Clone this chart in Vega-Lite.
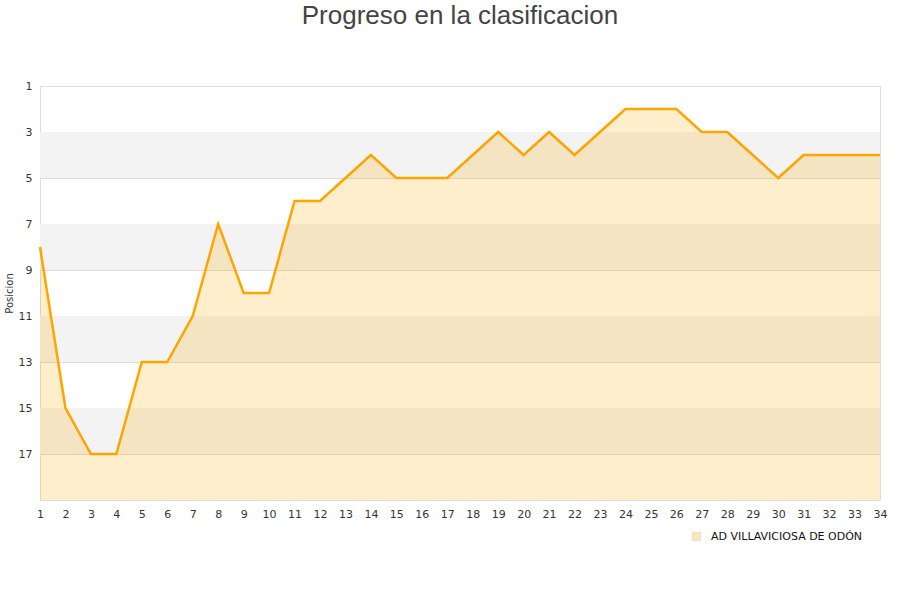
{
  "$schema": "https://vega.github.io/schema/vega-lite/v6.json",
  "width": 840,
  "height": 414,
  "autosize": {"type": "none"},
  "padding": {"left": 40, "top": 86, "right": 20, "bottom": 100},
  "title": {
    "text": "Progreso en la clasificacion",
    "fontSize": 26,
    "fontWeight": "normal",
    "color": "#444444",
    "font": "Liberation Sans",
    "anchor": "middle",
    "offset": 51
  },
  "datasets": {
    "bands": [
      {"desde": 3, "hasta": 5},
      {"desde": 7, "hasta": 9},
      {"desde": 11, "hasta": 13},
      {"desde": 15, "hasta": 17}
    ],
    "posiciones": [
      {"jornada": 1, "posicion": 8, "equipo": "AD VILLAVICIOSA DE ODÓN"},
      {"jornada": 2, "posicion": 15, "equipo": "AD VILLAVICIOSA DE ODÓN"},
      {"jornada": 3, "posicion": 17, "equipo": "AD VILLAVICIOSA DE ODÓN"},
      {"jornada": 4, "posicion": 17, "equipo": "AD VILLAVICIOSA DE ODÓN"},
      {"jornada": 5, "posicion": 13, "equipo": "AD VILLAVICIOSA DE ODÓN"},
      {"jornada": 6, "posicion": 13, "equipo": "AD VILLAVICIOSA DE ODÓN"},
      {"jornada": 7, "posicion": 11, "equipo": "AD VILLAVICIOSA DE ODÓN"},
      {"jornada": 8, "posicion": 7, "equipo": "AD VILLAVICIOSA DE ODÓN"},
      {"jornada": 9, "posicion": 10, "equipo": "AD VILLAVICIOSA DE ODÓN"},
      {"jornada": 10, "posicion": 10, "equipo": "AD VILLAVICIOSA DE ODÓN"},
      {"jornada": 11, "posicion": 6, "equipo": "AD VILLAVICIOSA DE ODÓN"},
      {"jornada": 12, "posicion": 6, "equipo": "AD VILLAVICIOSA DE ODÓN"},
      {"jornada": 13, "posicion": 5, "equipo": "AD VILLAVICIOSA DE ODÓN"},
      {"jornada": 14, "posicion": 4, "equipo": "AD VILLAVICIOSA DE ODÓN"},
      {"jornada": 15, "posicion": 5, "equipo": "AD VILLAVICIOSA DE ODÓN"},
      {"jornada": 16, "posicion": 5, "equipo": "AD VILLAVICIOSA DE ODÓN"},
      {"jornada": 17, "posicion": 5, "equipo": "AD VILLAVICIOSA DE ODÓN"},
      {"jornada": 18, "posicion": 4, "equipo": "AD VILLAVICIOSA DE ODÓN"},
      {"jornada": 19, "posicion": 3, "equipo": "AD VILLAVICIOSA DE ODÓN"},
      {"jornada": 20, "posicion": 4, "equipo": "AD VILLAVICIOSA DE ODÓN"},
      {"jornada": 21, "posicion": 3, "equipo": "AD VILLAVICIOSA DE ODÓN"},
      {"jornada": 22, "posicion": 4, "equipo": "AD VILLAVICIOSA DE ODÓN"},
      {"jornada": 23, "posicion": 3, "equipo": "AD VILLAVICIOSA DE ODÓN"},
      {"jornada": 24, "posicion": 2, "equipo": "AD VILLAVICIOSA DE ODÓN"},
      {"jornada": 25, "posicion": 2, "equipo": "AD VILLAVICIOSA DE ODÓN"},
      {"jornada": 26, "posicion": 2, "equipo": "AD VILLAVICIOSA DE ODÓN"},
      {"jornada": 27, "posicion": 3, "equipo": "AD VILLAVICIOSA DE ODÓN"},
      {"jornada": 28, "posicion": 3, "equipo": "AD VILLAVICIOSA DE ODÓN"},
      {"jornada": 29, "posicion": 4, "equipo": "AD VILLAVICIOSA DE ODÓN"},
      {"jornada": 30, "posicion": 5, "equipo": "AD VILLAVICIOSA DE ODÓN"},
      {"jornada": 31, "posicion": 4, "equipo": "AD VILLAVICIOSA DE ODÓN"},
      {"jornada": 32, "posicion": 4, "equipo": "AD VILLAVICIOSA DE ODÓN"},
      {"jornada": 33, "posicion": 4, "equipo": "AD VILLAVICIOSA DE ODÓN"},
      {"jornada": 34, "posicion": 4, "equipo": "AD VILLAVICIOSA DE ODÓN"}
    ]
  },
  "layer": [
    {
      "data": {"name": "bands"},
      "mark": {"type": "rect", "color": "#f3f3f3"},
      "encoding": {
        "y": {"field": "desde", "type": "quantitative", "scale": {"domain": [1, 19], "reverse": true, "nice": false, "zero": false}},
        "y2": {"field": "hasta"}
      }
    },
    {
      "data": {"name": "posiciones"},
      "encoding": {
        "x": {
          "field": "jornada",
          "type": "quantitative",
          "scale": {"domain": [1, 34], "nice": false, "zero": false},
          "axis": {
            "title": null,
            "values": [1, 2, 3, 4, 5, 6, 7, 8, 9, 10, 11, 12, 13, 14, 15, 16, 17, 18, 19, 20, 21, 22, 23, 24, 25, 26, 27, 28, 29, 30, 31, 32, 33, 34],
            "grid": false,
            "domain": false,
            "ticks": false,
            "labelOverlap": false,
            "labelPadding": 8,
            "labelFontSize": 11,
            "labelColor": "#333333",
            "labelFont": "DejaVu Sans",
            "labelFlush": false
          }
        },
        "y": {
          "field": "posicion",
          "type": "quantitative",
          "axis": {
            "title": "Posicion",
            "titleFontSize": 10,
            "titleFontWeight": "normal",
            "titleColor": "#333333",
            "titleFont": "DejaVu Sans",
            "titlePadding": 4,
            "values": [1, 3, 5, 7, 9, 11, 13, 15, 17],
            "grid": true,
            "gridColor": "#dddddd",
            "domain": false,
            "ticks": false,
            "labelOverlap": false,
            "labelPadding": 8,
            "labelFontSize": 11,
            "labelColor": "#333333",
            "labelFont": "DejaVu Sans"
          }
        }
      },
      "layer": [
        {
          "mark": {"type": "area", "fillOpacity": 0.2},
          "encoding": {
            "y2": {"datum": 19},
            "fill": {
              "field": "equipo",
              "type": "nominal",
              "scale": {"range": ["#ffaa00"]},
              "legend": {
                "title": null,
                "orient": "none",
                "legendX": 651,
                "legendY": 445,
                "symbolType": "square",
                "symbolSize": 70,
                "symbolStrokeColor": "#a89878",
                "symbolStrokeWidth": 1,
                "symbolOpacity": 0.3,
                "labelFontSize": 11,
                "labelColor": "#111111",
                "labelFont": "DejaVu Sans",
                "labelOffset": 9
              }
            }
          }
        },
        {
          "mark": {"type": "line", "color": "#ffa500", "strokeWidth": 2.5}
        }
      ]
    }
  ],
  "config": {
    "view": {"stroke": "#dddddd"}
  }
}
